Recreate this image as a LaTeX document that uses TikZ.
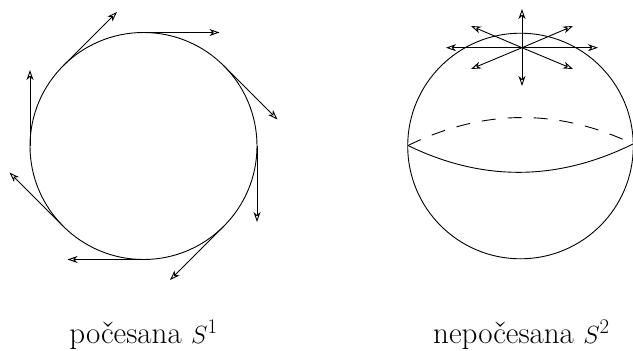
\documentclass[tikz,border=0pt]{standalone}
\usetikzlibrary{calc,arrows.meta}
\begin{document}
\begin{tikzpicture}[x=1pt,y=-1pt,
  curve/.style={line width=0.9pt,black},
  vec/.style={line width=0.9pt,-{Stealth[length=10pt,width=7pt,open,inset=3pt]}},
  equatordash/.style={line width=0.9pt,dash pattern=on 14pt off 12pt},
  caption/.style={anchor=base,inner sep=0pt,font=\fontsize{31}{37}\selectfont}]
\useasboundingbox (0,0) rectangle (633,351);
% left circle (combed S^1)
\coordinate (C1) at (143.5,146);
\draw[curve] (C1) circle[radius=113.5];
\foreach \a in {0,45,...,315}{
  \coordinate (t\a) at ($(C1)+({113.5*cos(\a)},{-113.5*sin(\a)})$);
  \coordinate (e\a) at ($(t\a)+({76*sin(\a)},{76*cos(\a)})$);
  \draw[vec] (t\a) -- (e\a);
}
% right sphere (uncombed S^2)
\coordinate (C2) at (520.5,146);
\draw[curve] (C2) circle[radius=112.8];
\coordinate (EL) at (408,145.5);
\coordinate (ER) at (633,144);
\draw[curve] (EL) .. controls (483,182) and (558,181) .. (ER);
\draw[equatordash] (EL) .. controls (483,109) and (558,108) .. (ER);
% hairy pole
\coordinate (N) at (522,47.7);
\foreach \n/\px/\py in {u/522/9,d/522/86,l/446/47.7,r/598/47.7,
                   ul/471/26,ur/573/26,dl/471/69,dr/573/69}{
  \coordinate (p\n) at (\px,\py);
  \draw[vec] (N) -- (p\n);
}
% captions
\node[caption] (cap1) at (143.5,343) {počesana $S^1$};
\node[caption] (cap2) at (521.5,343) {nepočesana $S^2$};
\end{tikzpicture}
\end{document}
